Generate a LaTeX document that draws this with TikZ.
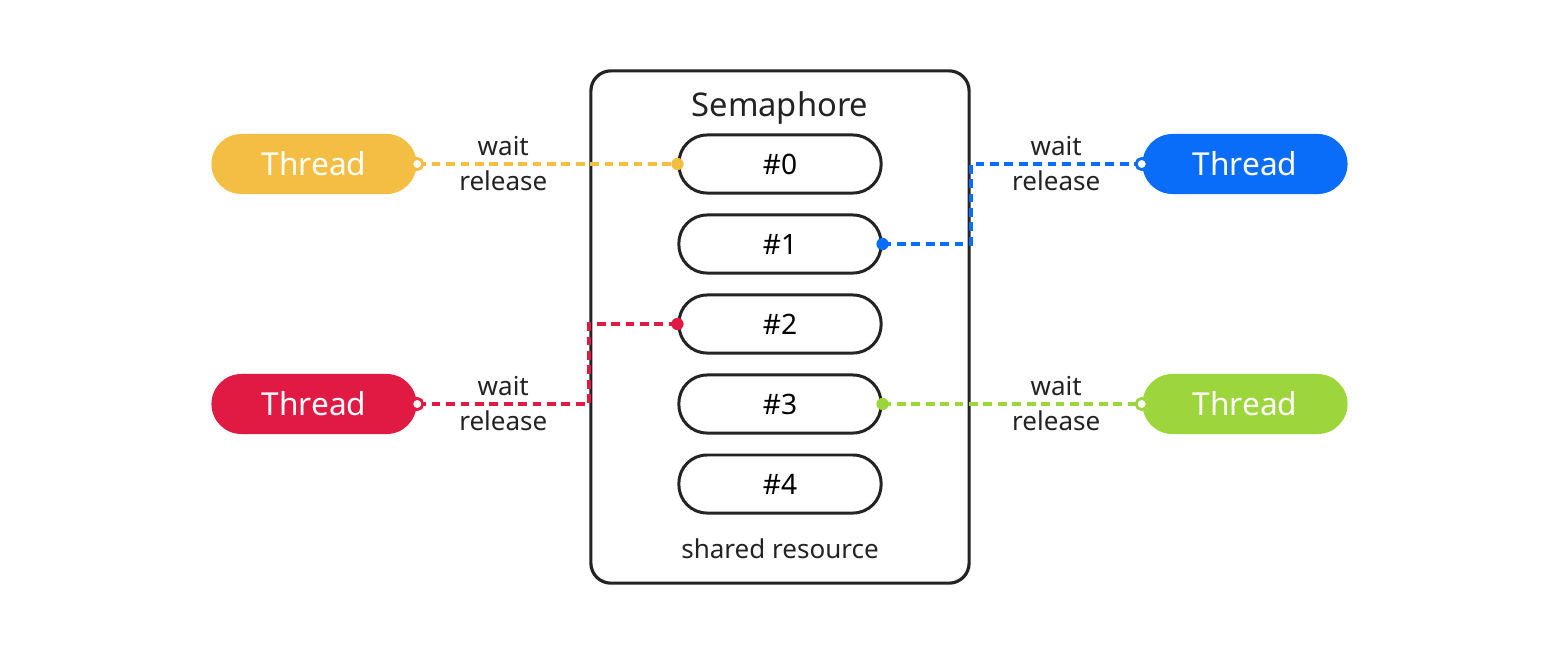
\documentclass[tikz,border=0pt]{standalone}
\usepackage{fontspec}
\setmainfont{Noto Sans}
\usetikzlibrary{positioning, calc}

\definecolor{ink}{HTML}{232323}
\definecolor{threadyellow}{HTML}{F4BE44}
\definecolor{threadblue}{HTML}{0A6DFA}
\definecolor{threadred}{HTML}{E01A42}
\definecolor{threadgreen}{HTML}{9CD63C}

\begin{document}
\begin{tikzpicture}[x=0.01cm, y=-0.01cm,
		thread/.style={shape=rectangle, rounded corners=0.3cm, minimum width=2.05cm, minimum height=0.6cm, inner sep=0pt, text=white, font=\fontsize{9}{10}\selectfont},
		slot/.style={shape=rectangle, draw=ink, line width=0.85pt, fill=white, rounded corners=0.28cm, minimum width=2.02cm, minimum height=0.58cm, inner sep=0pt, text=black, font=\fontsize{8}{9}\selectfont},
		conn/.style={dash pattern=on 2.5pt off 1.6pt, line width=1.05pt},
		lbl/.style={inner sep=0pt, text=ink, font=\fontsize{7.4}{8}\selectfont},
		hole/.style={fill=white, line width=0.8pt}]
		\useasboundingbox (0,0) rectangle (1560,654);

		\node[shape=rectangle, draw=ink, line width=0.9pt, rounded corners=0.2cm, minimum width=3.78cm, minimum height=5.12cm] (sem) at (780,327){};
		\node[inner sep=0pt, anchor=base, text=ink, font=\fontsize{9.3}{10}\selectfont] (title) at (780,116){Semaphore};
		\node[lbl] (shared) at (780,549){shared resource};

		\foreach \i in {0,...,4}
			\node[slot] (S\i) at (780,164+80*\i){\#\i};

		\node[thread, fill=threadyellow] (T0) at (314,164){Thread};
		\node[thread, fill=threadblue] (T1) at (1245,164){Thread};
		\node[thread, fill=threadred] (T2) at (314,404){Thread};
		\node[thread, fill=threadgreen] (T3) at (1245,404){Thread};

		\draw[conn, threadyellow] (T0.east) -- (S0.west);
		\draw[conn, threadblue] (S1.east) -- (S1.east -| sem.east) -- (sem.east |- T1.west) -- (T1.west);
		\draw[conn, threadred] (T2.east) -- (T2.east -| sem.west) -- (sem.west |- S2.west) -- (S2.west);
		\draw[conn, threadgreen] (S3.east) -- (T3.west);

		\filldraw[hole, draw=threadyellow] (T0.east) circle (1.6pt);
		\filldraw[hole, draw=threadblue] (T1.west) circle (1.6pt);
		\filldraw[hole, draw=threadred] (T2.east) circle (1.6pt);
		\filldraw[hole, draw=threadgreen] (T3.west) circle (1.6pt);
		\fill[threadyellow] (S0.west) circle (1.75pt);
		\fill[threadblue] (S1.east) circle (1.75pt);
		\fill[threadred] (S2.west) circle (1.75pt);
		\fill[threadgreen] (S3.east) circle (1.75pt);

		\node[lbl] (wait0) at ($(T0.east)!.5!(T0.east -| sem.west) + (0,-18)$){wait};
		\node[lbl] (release0) at ($(T0.east)!.5!(T0.east -| sem.west) + (0,17)$){release};
		\node[lbl] (wait1) at ($(T1.west)!.5!(T1.west -| sem.east) + (0,-18)$){wait};
		\node[lbl] (release1) at ($(T1.west)!.5!(T1.west -| sem.east) + (0,17)$){release};
		\node[lbl] (wait2) at ($(T2.east)!.5!(T2.east -| sem.west) + (0,-18)$){wait};
		\node[lbl] (release2) at ($(T2.east)!.5!(T2.east -| sem.west) + (0,17)$){release};
		\node[lbl] (wait3) at ($(T3.west)!.5!(T3.west -| sem.east) + (0,-18)$){wait};
		\node[lbl] (release3) at ($(T3.west)!.5!(T3.west -| sem.east) + (0,17)$){release};
\end{tikzpicture}
\end{document}
